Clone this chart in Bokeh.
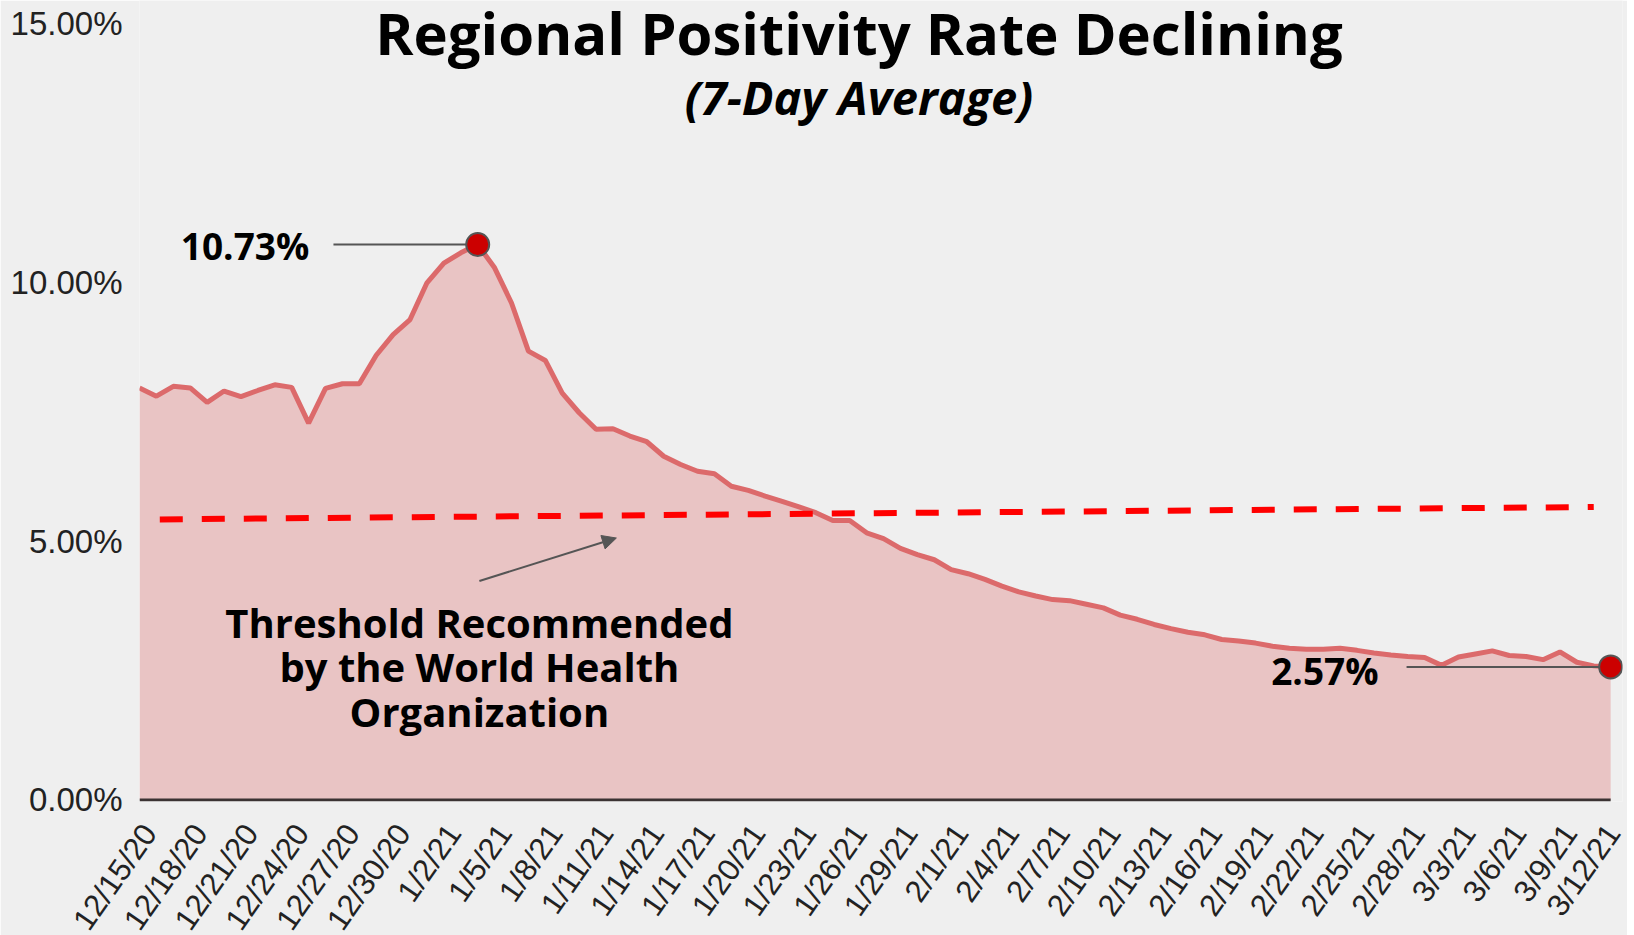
import pandas as pd
from bokeh.plotting import figure
from bokeh.models import (FixedTicker, PrintfTickFormatter, Label, Arrow, NormalHead,
                          ColumnDataSource, Range1d, LinearAxis)
from bokeh.embed import file_html
from bokeh.resources import INLINE

# ---------------- data ----------------
dates = pd.date_range("2020-12-15", "2021-03-12", freq="D")
date_labels = [f"{d.month}/{d.day}/{d.strftime('%y')}" for d in dates]

positivity = [
    7.96, 7.80, 7.99, 7.96, 7.68, 7.90, 7.79, 7.91, 8.02, 7.97,
    7.28, 7.95, 8.04, 8.04, 8.59, 8.99, 9.28, 9.99, 10.37, 10.57,
    10.73, 10.28, 9.60, 8.67, 8.49, 7.86, 7.48, 7.16, 7.17, 7.03,
    6.92, 6.64, 6.48, 6.35, 6.30, 6.06, 5.98, 5.87, 5.77, 5.66,
    5.55, 5.40, 5.40, 5.16, 5.05, 4.86, 4.74, 4.64, 4.45, 4.37,
    4.26, 4.13, 4.02, 3.94, 3.87, 3.85, 3.78, 3.71, 3.57, 3.49,
    3.39, 3.31, 3.24, 3.19, 3.10, 3.07, 3.03, 2.97, 2.93, 2.91,
    2.91, 2.93, 2.89, 2.84, 2.80, 2.77, 2.75, 2.60, 2.76, 2.82,
    2.88, 2.79, 2.77, 2.71, 2.86, 2.66, 2.59, 2.57,
]
day_index = list(range(len(positivity)))

# WHO threshold (trend line as drawn in source)
threshold_x = [1.2, 86.0]
threshold_y = [5.42, 5.66]

# highlighted points
peak_i = 20
last_i = len(positivity) - 1
highlight_x = [peak_i, last_i]
highlight_y = [positivity[peak_i], positivity[last_i]]

y_ticks = [0, 5, 10, 15]
x_ticks = list(range(0, len(positivity), 3))

# ---------------- figure ----------------
BG = "#efefef"
X_END = 87.7          # a little room right of the last day for the slanted labels
LABEL_SHIFT = 0.6     # date labels sit slightly right of their day, as in the source
Y_TOP = 15.444        # headroom above 15% for the title

p = figure(frame_width=1483, frame_height=801, output_backend="svg",
           toolbar_location=None,
           x_range=Range1d(0, X_END), y_range=Range1d(-0.03, Y_TOP),
           min_border_left=139, min_border_right=5, min_border_top=0,
           min_border_bottom=130, x_axis_location=None)
p.background_fill_color = BG
p.border_fill_color = BG
p.outline_line_color = None
p.xgrid.grid_line_color = None
p.ygrid.grid_line_color = None

src = ColumnDataSource(dict(x=day_index, y=positivity))
p.varea(x="x", y1=0, y2="y", source=src, fill_color="#e9c4c4")
p.line(x=[day_index[0], day_index[-1]], y=[0, 0], line_color="#3b3333", line_width=3)
p.line(x="x", y="y", source=src, line_color="#dc6a6b", line_width=5)

p.line(x=threshold_x, y=threshold_y, line_color="#ff0000", line_width=6,
       line_dash="23 19")

# leader lines
p.line(x=[11.47, peak_i], y=[positivity[peak_i]] * 2, line_color="#555555", line_width=2)
p.line(x=[74.93, last_i], y=[positivity[last_i]] * 2, line_color="#555555", line_width=2)

p.scatter(x=highlight_x, y=highlight_y, size=23, fill_color="#cc0000",
          line_color="#555555", line_width=2)

# y axis
p.yaxis.ticker = FixedTicker(ticks=y_ticks)
p.yaxis.formatter = PrintfTickFormatter(format="%.2f%%")
p.yaxis.axis_line_color = None
p.yaxis.major_tick_line_color = None
p.yaxis.minor_tick_line_color = None
p.yaxis.major_label_text_font = "Liberation Sans"
p.yaxis.major_label_text_font_size = "33px"
p.yaxis.major_label_text_color = "#222222"
p.yaxis.major_label_standoff = 11

# x axis with slanted date labels
p.extra_x_ranges = {"labels": Range1d(-LABEL_SHIFT, X_END - LABEL_SHIFT)}
xaxis = LinearAxis(x_range_name="labels")
xaxis.ticker = FixedTicker(ticks=x_ticks)
xaxis.major_label_overrides = {i: date_labels[i] for i in x_ticks}
xaxis.major_label_orientation = 0.96
xaxis.axis_line_color = None
xaxis.major_tick_line_color = None
xaxis.minor_tick_line_color = None
xaxis.major_label_text_font = "Liberation Sans"
xaxis.major_label_text_font_size = "31px"
xaxis.major_label_text_color = "#222222"
xaxis.major_label_standoff = 20
p.add_layout(xaxis, "below")

# annotations
font = "Open Sans"
def add_text(x, y, text, size, style="bold"):
    p.add_layout(Label(x=x, y=y, text=text, text_font=font, text_font_style=style,
                       text_font_size=size, text_align="center",
                       text_baseline="middle", text_color="#000000"))

add_text(42.55, 14.83, "Regional Positivity Rate Declining", "58px")
add_text(42.55, 13.58, "(7-Day Average)", "47px", "bold italic")
add_text(6.24, 10.71, f"{positivity[peak_i]:.2f}%", "37px")
add_text(70.1, 2.51, f"{positivity[last_i]:.2f}%", "37px")
add_text(20.1, 3.42, "Threshold Recommended", "40px")
add_text(20.1, 2.57, "by the World Health", "40px")
add_text(20.1, 1.70, "Organization", "40px")

p.add_layout(Arrow(end=NormalHead(size=14, fill_color="#555555", line_color="#555555"),
                   x_start=20.1, y_start=4.23, x_end=28.2, y_end=5.06,
                   line_color="#555555", line_width=2))

html = file_html(p, INLINE)
html = html.replace("<body>", '<body style="background:#efefef;overflow:hidden">', 1)
open("out.html", "w").write(html)
